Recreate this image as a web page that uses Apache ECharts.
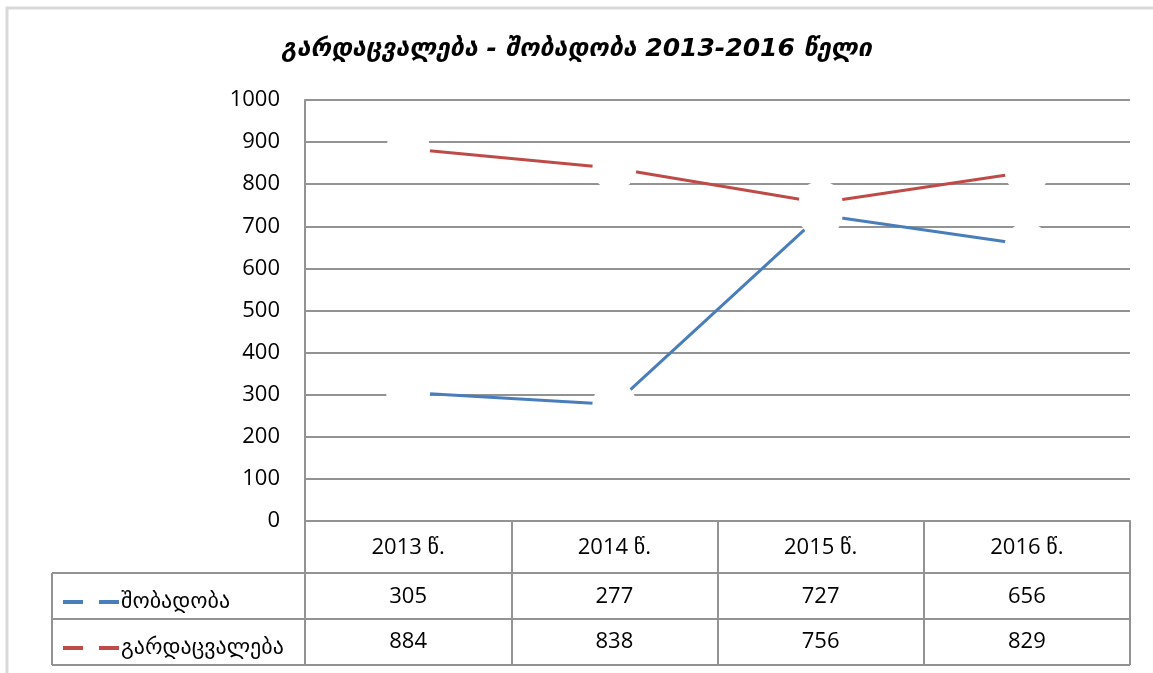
<!DOCTYPE html>
<html>
<head>
<meta charset="utf-8">
<script src="https://cdn.jsdelivr.net/npm/echarts@6/dist/echarts.min.js"></script>
<style>
  html, body { margin: 0; padding: 0; background: #fff; }
  #chart { width: 1153px; height: 673px; }
</style>
</head>
<body>
<div id="chart"></div>
<script>
const titleText = "გარდაცვალება - შობადობა 2013-2016 წელი";
const years = ["2013 წ.", "2014 წ.", "2015 წ.", "2016 წ."];
const birthName = "შობადობა";
const deathName = "გარდაცვალება";
const births = [305, 277, 727, 656];
const deaths = [884, 838, 756, 829];
const yTicks = [0, 100, 200, 300, 400, 500, 600, 700, 800, 900, 1000];

const blue = "#4a7ebb";
const red = "#be4b48";
const gray = "#939393";
const font = "'Open Sans', 'DejaVu Sans', sans-serif";

// table layout
const plotLeft = 305, plotRight = 1130, plotTop = 100, zeroY = 521;
const headH = 52, rowH = 46, tableLeft = 52;

const chart = echarts.init(document.getElementById("chart"));

const rowAxis = (labels, offset, margin) => ({
  type: "category",
  data: labels,
  position: "bottom",
  offset: offset,
  boundaryGap: true,
  axisLine: { show: true, lineStyle: { color: gray, width: 2 } },
  axisTick: { show: true, length: rowH, lineStyle: { color: gray, width: 2 } },
  axisLabel: { color: "#000", fontSize: 22, fontFamily: font, margin: margin },
  splitLine: { show: false }
});

chart.setOption({
  animation: false,
  title: {
    text: titleText,
    left: "center",
    top: 32,
    textStyle: { fontSize: 25, fontWeight: "bold", fontStyle: "italic", color: "#000", fontFamily: "'DejaVu Sans', sans-serif" }
  },
  grid: { left: plotLeft, right: 1153 - plotRight, top: plotTop, bottom: 673 - zeroY },
  legend: {
    orient: "vertical",
    left: 58,
    top: 585,
    itemWidth: 56,
    itemHeight: 4,
    itemGap: 22,
    icon: "path://M0,0H20V4H0Z M36,0H56V4H36Z",
    selectedMode: false,
    textStyle: { fontSize: 22, lineHeight: 24, color: "#000", padding: [0, 0, 0, -3], fontFamily: "'DejaVu Sans', sans-serif" },
    data: [
      { name: birthName, itemStyle: { color: blue } },
      { name: deathName, itemStyle: { color: red } }
    ]
  },
  xAxis: [
    {
      type: "category",
      data: years,
      position: "bottom",
      boundaryGap: true,
      axisLine: { show: true, lineStyle: { color: gray, width: 2 } },
      axisTick: { show: true, length: headH, lineStyle: { color: gray, width: 2 } },
      axisLabel: { color: "#000", fontSize: 22, fontFamily: font, margin: 16 },
      splitLine: { show: false }
    },
    rowAxis(births.map(String), headH, 13),
    rowAxis(deaths.map(String), headH + rowH, 12)
  ],
  yAxis: {
    type: "value",
    min: yTicks[0],
    max: yTicks[yTicks.length - 1],
    interval: 100,
    axisLine: { show: true, lineStyle: { color: gray, width: 2 } },
    axisTick: { show: false },
    axisLabel: { color: "#000", fontSize: 22, fontFamily: font, margin: 25, formatter: v => String(v) },
    splitLine: { show: true, lineStyle: { color: gray, width: 2 } }
  },
  series: [
    {
      name: birthName,
      type: "line",
      data: births,
      symbol: "circle",
      symbolSize: 44,
      itemStyle: { color: "#fff", borderWidth: 0 },
      lineStyle: { color: blue, width: 3 },
      emphasis: { disabled: true }
    },
    {
      name: deathName,
      type: "line",
      data: deaths,
      symbol: "circle",
      symbolSize: 44,
      itemStyle: { color: "#fff", borderWidth: 0 },
      lineStyle: { color: red, width: 3 },
      emphasis: { disabled: true }
    }
  ],
  graphic: [
    { type: "rect", shape: { x: 7, y: 8, width: 1200, height: 700 }, style: { fill: null, stroke: "#d9d9d9", lineWidth: 3 }, silent: true },
    { type: "line", shape: { x1: tableLeft, y1: zeroY + headH, x2: plotLeft, y2: zeroY + headH }, style: { stroke: gray, lineWidth: 2 } },
    { type: "line", shape: { x1: tableLeft, y1: zeroY + headH + rowH, x2: plotLeft, y2: zeroY + headH + rowH }, style: { stroke: gray, lineWidth: 2 } },
    { type: "line", shape: { x1: tableLeft, y1: zeroY + headH + 2 * rowH, x2: plotRight, y2: zeroY + headH + 2 * rowH }, style: { stroke: gray, lineWidth: 2 } },
    { type: "line", shape: { x1: tableLeft, y1: zeroY + headH, x2: tableLeft, y2: zeroY + headH + 2 * rowH }, style: { stroke: gray, lineWidth: 2 } }
  ]
});
</script>
</body>
</html>
